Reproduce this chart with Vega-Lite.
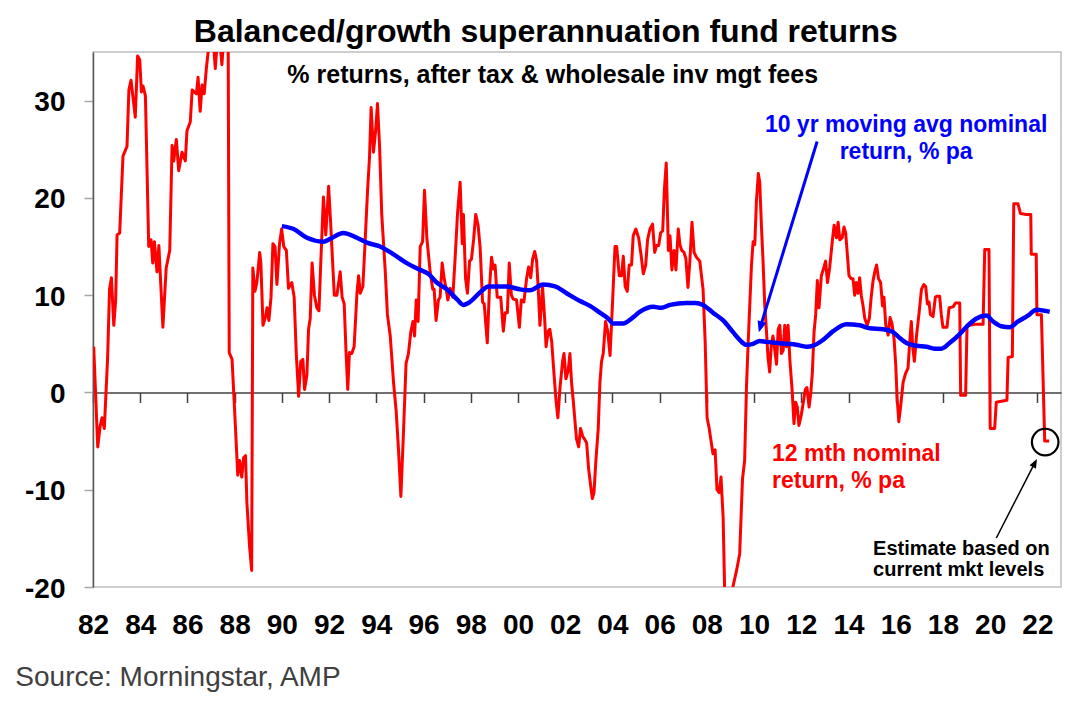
{
  "$schema": "https://vega.github.io/schema/vega-lite/v6.json",
  "width": 968,
  "height": 535,
  "autosize": "none",
  "padding": {"left": 93, "top": 52, "right": 29, "bottom": 121},
  "background": "white",
  "config": {"font": "Liberation Sans", "view": {"stroke": "#bfbfbf", "strokeWidth": 1.5}},
  "resolve": {"axis": {"x": "independent", "y": "independent"}},
  "layer": [
    {
      "data": {"values": [
        {"t":1982.03,"v":4.7},{"t":1982.2,"v":-5.6},{"t":1982.3,"v":-3.5},{"t":1982.38,"v":-2.6},{"t":1982.48,"v":-3.7},{"t":1982.62,"v":3.6},{"t":1982.7,"v":10.6},{"t":1982.78,"v":11.8},{"t":1982.88,"v":6.9},{"t":1982.96,"v":9.5},
        {"t":1983.02,"v":16.2},{"t":1983.13,"v":16.4},{"t":1983.27,"v":24.3},{"t":1983.44,"v":25.3},{"t":1983.52,"v":31.1},{"t":1983.61,"v":32.1},{"t":1983.79,"v":28.3},{"t":1983.89,"v":34.6},{"t":1983.98,"v":34.2},
        {"t":1984.05,"v":30.9},{"t":1984.12,"v":31.5},{"t":1984.22,"v":30.5},{"t":1984.36,"v":15.0},{"t":1984.46,"v":15.7},{"t":1984.53,"v":13.3},{"t":1984.6,"v":15.5},{"t":1984.71,"v":12.4},{"t":1984.79,"v":15.1},{"t":1984.96,"v":6.7},
        {"t":1985.1,"v":12.8},{"t":1985.25,"v":14.6},{"t":1985.35,"v":25.4},{"t":1985.42,"v":23.8},{"t":1985.53,"v":26.0},{"t":1985.63,"v":22.8},{"t":1985.77,"v":24.7},{"t":1985.91,"v":23.8},{"t":1985.98,"v":26.9},
        {"t":1986.12,"v":27.8},{"t":1986.2,"v":31.1},{"t":1986.38,"v":30.7},{"t":1986.45,"v":32.4},{"t":1986.54,"v":28.9},{"t":1986.62,"v":31.6},{"t":1986.71,"v":30.7},{"t":1986.8,"v":33.3},{"t":1986.9,"v":35.5},
        {"t":1987.0,"v":37},{"t":1987.1,"v":36},{"t":1987.18,"v":33.3},{"t":1987.26,"v":36},{"t":1987.38,"v":36},{"t":1987.46,"v":33.7},{"t":1987.55,"v":37},{"t":1987.72,"v":40},{"t":1987.77,"v":4.1},{"t":1987.89,"v":3.4},
        {"t":1988.03,"v":-3.4},{"t":1988.13,"v":-8.5},{"t":1988.21,"v":-7.0},{"t":1988.3,"v":-8.7},{"t":1988.38,"v":-6.7},{"t":1988.46,"v":-6.5},{"t":1988.52,"v":-11.4},{"t":1988.63,"v":-15.8},{"t":1988.72,"v":-18.3},{"t":1988.77,"v":12.8},{"t":1988.86,"v":10.4},{"t":1988.94,"v":11.3},
        {"t":1989.06,"v":14.4},{"t":1989.11,"v":13.3},{"t":1989.2,"v":6.9},{"t":1989.31,"v":7.8},{"t":1989.37,"v":8.7},{"t":1989.45,"v":7.4},{"t":1989.54,"v":9.8},{"t":1989.62,"v":15.3},{"t":1989.71,"v":15.0},{"t":1989.79,"v":11.1},{"t":1989.9,"v":15.3},{"t":1989.99,"v":16.8},
        {"t":1990.08,"v":15.0},{"t":1990.19,"v":14.6},{"t":1990.28,"v":10.7},{"t":1990.42,"v":11.3},{"t":1990.52,"v":9.8},{"t":1990.61,"v":4.0},{"t":1990.71,"v":-0.4},{"t":1990.8,"v":3.2},{"t":1990.89,"v":3.4},{"t":1990.96,"v":0.3},
        {"t":1991.06,"v":1.8},{"t":1991.13,"v":6.5},{"t":1991.2,"v":7.6},{"t":1991.28,"v":13.3},{"t":1991.38,"v":10.0},{"t":1991.48,"v":8.7},{"t":1991.57,"v":8.4},{"t":1991.65,"v":13.5},{"t":1991.76,"v":20.1},{"t":1991.86,"v":16.2},{"t":1991.98,"v":21.2},
        {"t":1992.07,"v":17.2},{"t":1992.22,"v":10.0},{"t":1992.33,"v":10.0},{"t":1992.47,"v":12.4},{"t":1992.55,"v":9.8},{"t":1992.64,"v":9.1},{"t":1992.72,"v":4.0},{"t":1992.79,"v":0.3},{"t":1992.86,"v":4.1},{"t":1992.96,"v":4.0},
        {"t":1993.06,"v":4.7},{"t":1993.18,"v":10.2},{"t":1993.25,"v":12.0},{"t":1993.32,"v":10.2},{"t":1993.43,"v":10.9},{"t":1993.53,"v":15.7},{"t":1993.63,"v":20.8},{"t":1993.71,"v":24.1},{"t":1993.78,"v":29.3},{"t":1993.88,"v":24.7},{"t":1993.97,"v":26.9},
        {"t":1994.05,"v":29.7},{"t":1994.14,"v":25.2},{"t":1994.23,"v":18.3},{"t":1994.38,"v":12.4},{"t":1994.47,"v":8.0},{"t":1994.59,"v":5.8},{"t":1994.73,"v":1.0},{"t":1994.84,"v":-1.9},{"t":1994.94,"v":-5.9},
        {"t":1995.04,"v":-10.7},{"t":1995.15,"v":-4.1},{"t":1995.26,"v":3.0},{"t":1995.36,"v":4.0},{"t":1995.46,"v":6.2},{"t":1995.55,"v":7.3},{"t":1995.62,"v":5.8},{"t":1995.69,"v":9.5},{"t":1995.77,"v":7.3},{"t":1995.86,"v":15.0},{"t":1995.96,"v":15.5},
        {"t":1996.04,"v":20.8},{"t":1996.14,"v":15.9},{"t":1996.28,"v":12.4},{"t":1996.39,"v":10.6},{"t":1996.45,"v":10.6},{"t":1996.53,"v":7.4},{"t":1996.63,"v":9.5},{"t":1996.7,"v":9.8},{"t":1996.79,"v":13.3},{"t":1996.87,"v":11.8},{"t":1996.96,"v":10.6},
        {"t":1997.03,"v":9.5},{"t":1997.13,"v":10.7},{"t":1997.24,"v":9.8},{"t":1997.34,"v":13.9},{"t":1997.44,"v":18.4},{"t":1997.55,"v":21.6},{"t":1997.64,"v":15.3},{"t":1997.69,"v":18.3},{"t":1997.78,"v":11.7},{"t":1997.86,"v":10.2},{"t":1997.95,"v":13.5},
        {"t":1998.03,"v":13.7},{"t":1998.12,"v":15.7},{"t":1998.21,"v":18.3},{"t":1998.31,"v":17.2},{"t":1998.4,"v":14.8},{"t":1998.5,"v":9.3},{"t":1998.57,"v":9.1},{"t":1998.7,"v":5.1},{"t":1998.79,"v":10.6},{"t":1998.88,"v":13.9},{"t":1998.96,"v":12.7},
        {"t":1999.03,"v":13.1},{"t":1999.12,"v":9.8},{"t":1999.27,"v":9.8},{"t":1999.38,"v":6.3},{"t":1999.46,"v":8.2},{"t":1999.55,"v":8.2},{"t":1999.63,"v":13.3},{"t":1999.72,"v":10.0},{"t":1999.8,"v":9.6},{"t":1999.94,"v":9.5},
        {"t":2000.06,"v":6.7},{"t":2000.14,"v":9.5},{"t":2000.25,"v":9.3},{"t":2000.37,"v":11.8},{"t":2000.45,"v":12.9},{"t":2000.54,"v":11.8},{"t":2000.62,"v":13.7},{"t":2000.71,"v":14.5},{"t":2000.79,"v":13.5},{"t":2000.86,"v":10.6},{"t":2000.93,"v":6.9},
        {"t":2001.04,"v":10.9},{"t":2001.13,"v":7.6},{"t":2001.19,"v":4.7},{"t":2001.28,"v":6.3},{"t":2001.35,"v":6.5},{"t":2001.43,"v":5.2},{"t":2001.52,"v":2.1},{"t":2001.61,"v":-0.8},{"t":2001.69,"v":-2.6},{"t":2001.78,"v":0.5},{"t":2001.89,"v":3.2},{"t":2001.95,"v":4.0},
        {"t":2002.03,"v":1.4},{"t":2002.13,"v":2.3},{"t":2002.2,"v":4.0},{"t":2002.27,"v":1.0},{"t":2002.34,"v":-0.8},{"t":2002.43,"v":-3.4},{"t":2002.48,"v":-4.8},{"t":2002.57,"v":-5.6},{"t":2002.65,"v":-3.7},{"t":2002.74,"v":-4.5},{"t":2002.82,"v":-4.8},{"t":2002.91,"v":-5.2},{"t":2002.99,"v":-7.8},
        {"t":2003.09,"v":-9.8},{"t":2003.15,"v":-10.9},{"t":2003.22,"v":-10.3},{"t":2003.3,"v":-7.0},{"t":2003.4,"v":-3.7},{"t":2003.47,"v":1.0},{"t":2003.54,"v":3.2},{"t":2003.61,"v":4.0},{"t":2003.71,"v":7.3},{"t":2003.8,"v":6.3},{"t":2003.9,"v":3.8},
        {"t":2004.01,"v":9.5},{"t":2004.11,"v":15.0},{"t":2004.18,"v":15.0},{"t":2004.29,"v":12.0},{"t":2004.39,"v":12.0},{"t":2004.46,"v":14.0},{"t":2004.54,"v":10.9},{"t":2004.63,"v":10.4},{"t":2004.71,"v":13.1},{"t":2004.81,"v":13.1},{"t":2004.88,"v":16.1},{"t":2004.99,"v":16.8},
        {"t":2005.11,"v":15.9},{"t":2005.21,"v":14.2},{"t":2005.31,"v":12.2},{"t":2005.41,"v":13.1},{"t":2005.49,"v":15.7},{"t":2005.59,"v":16.8},{"t":2005.7,"v":17.3},{"t":2005.79,"v":14.4},{"t":2005.87,"v":15.1},{"t":2005.96,"v":15.1},
        {"t":2006.04,"v":16.4},{"t":2006.13,"v":16.6},{"t":2006.2,"v":20.8},{"t":2006.28,"v":23.6},{"t":2006.37,"v":14.6},{"t":2006.44,"v":16.1},{"t":2006.52,"v":12.6},{"t":2006.61,"v":14.6},{"t":2006.69,"v":12.6},{"t":2006.79,"v":16.8},{"t":2006.86,"v":15.2},{"t":2006.94,"v":14.6},
        {"t":2007.03,"v":14.4},{"t":2007.11,"v":13.8},{"t":2007.2,"v":10.8},{"t":2007.28,"v":13.5},{"t":2007.37,"v":17.5},{"t":2007.46,"v":14.4},{"t":2007.56,"v":13.9},{"t":2007.7,"v":13.5},{"t":2007.84,"v":10.6},{"t":2007.93,"v":5.1},
        {"t":2008.01,"v":-2.6},{"t":2008.1,"v":-3.7},{"t":2008.19,"v":-5.2},{"t":2008.26,"v":-6.3},{"t":2008.35,"v":-5.9},{"t":2008.43,"v":-10.0},{"t":2008.52,"v":-10.3},{"t":2008.6,"v":-8.7},{"t":2008.69,"v":-12.9},{"t":2008.76,"v":-21},{"t":2008.9,"v":-22},
        {"t":2009.05,"v":-21},{"t":2009.11,"v":-19.9},{"t":2009.25,"v":-18.4},{"t":2009.39,"v":-16.6},{"t":2009.51,"v":-8.9},{"t":2009.6,"v":-7.0},{"t":2009.68,"v":0.7},{"t":2009.75,"v":5.1},{"t":2009.82,"v":9.1},{"t":2009.89,"v":13.1},{"t":2009.96,"v":15.5},
        {"t":2010.03,"v":15.2},{"t":2010.1,"v":19.7},{"t":2010.18,"v":22.5},{"t":2010.24,"v":21.6},{"t":2010.31,"v":17.2},{"t":2010.38,"v":13.5},{"t":2010.45,"v":9.1},{"t":2010.52,"v":6.5},{"t":2010.59,"v":3.6},{"t":2010.66,"v":2.1},{"t":2010.73,"v":4.9},{"t":2010.8,"v":5.8},{"t":2010.88,"v":4.3},{"t":2010.95,"v":2.9},
        {"t":2011.02,"v":6.5},{"t":2011.09,"v":6.9},{"t":2011.16,"v":4.0},{"t":2011.23,"v":4.3},{"t":2011.3,"v":6.9},{"t":2011.37,"v":4.7},{"t":2011.44,"v":6.9},{"t":2011.52,"v":3.2},{"t":2011.61,"v":0.3},{"t":2011.69,"v":-3.2},{"t":2011.76,"v":-1.0},{"t":2011.83,"v":-1.5},{"t":2011.9,"v":-3.4},
        {"t":2012.0,"v":-2.3},{"t":2012.1,"v":-0.8},{"t":2012.17,"v":0.3},{"t":2012.24,"v":0.5},{"t":2012.33,"v":-1.5},{"t":2012.4,"v":-0.1},{"t":2012.47,"v":2.1},{"t":2012.54,"v":6.2},{"t":2012.61,"v":8.0},{"t":2012.68,"v":11.5},{"t":2012.75,"v":8.7},{"t":2012.85,"v":12.0},{"t":2012.95,"v":12.8},
        {"t":2013.03,"v":13.5},{"t":2013.11,"v":11.3},{"t":2013.2,"v":12.8},{"t":2013.32,"v":15.7},{"t":2013.39,"v":17.2},{"t":2013.49,"v":15.9},{"t":2013.56,"v":17.5},{"t":2013.63,"v":15.7},{"t":2013.73,"v":15.9},{"t":2013.81,"v":17.0},{"t":2013.88,"v":16.4},{"t":2013.95,"v":14.2},
        {"t":2014.02,"v":12.0},{"t":2014.11,"v":11.7},{"t":2014.19,"v":11.7},{"t":2014.26,"v":10.0},{"t":2014.33,"v":11.3},{"t":2014.4,"v":10.2},{"t":2014.47,"v":11.8},{"t":2014.54,"v":10.0},{"t":2014.61,"v":9.0},{"t":2014.69,"v":7.6},{"t":2014.79,"v":6.9},{"t":2014.88,"v":7.6},{"t":2014.96,"v":9.8},
        {"t":2015.04,"v":11.5},{"t":2015.12,"v":12.5},{"t":2015.19,"v":13.1},{"t":2015.27,"v":11.7},{"t":2015.36,"v":11.3},{"t":2015.44,"v":8.9},{"t":2015.5,"v":9.8},{"t":2015.58,"v":6.9},{"t":2015.68,"v":5.9},{"t":2015.76,"v":7.7},{"t":2015.84,"v":7.1},{"t":2015.93,"v":5.5},
        {"t":2016.0,"v":2.8},{"t":2016.06,"v":-0.6},{"t":2016.13,"v":-3.0},{"t":2016.21,"v":-1.4},{"t":2016.31,"v":1.0},{"t":2016.41,"v":1.9},{"t":2016.52,"v":2.5},{"t":2016.59,"v":5.1},{"t":2016.66,"v":7.3},{"t":2016.72,"v":4.7},{"t":2016.79,"v":3.2},{"t":2016.88,"v":5.8},{"t":2016.99,"v":8.2},
        {"t":2017.09,"v":10.6},{"t":2017.19,"v":11.1},{"t":2017.27,"v":10.9},{"t":2017.34,"v":9.1},{"t":2017.41,"v":9.3},{"t":2017.47,"v":8.0},{"t":2017.58,"v":7.8},{"t":2017.68,"v":9.8},{"t":2017.75,"v":9.9},{"t":2017.86,"v":9.9},{"t":2017.93,"v":8.0},
        {"t":2018.0,"v":6.7},{"t":2018.17,"v":6.7},{"t":2018.26,"v":8.7},{"t":2018.43,"v":8.8},{"t":2018.53,"v":9.2},{"t":2018.71,"v":9.2},{"t":2018.75,"v":-0.3},{"t":2018.96,"v":-0.3},
        {"t":2019.02,"v":6.9},{"t":2019.13,"v":6.9},{"t":2019.35,"v":7.0},{"t":2019.7,"v":7.0},{"t":2019.77,"v":14.7},{"t":2019.95,"v":14.7},
        {"t":2020.0,"v":-3.7},{"t":2020.19,"v":-3.7},{"t":2020.26,"v":-1.0},{"t":2020.47,"v":-0.9},{"t":2020.71,"v":-0.8},{"t":2020.76,"v":3.6},{"t":2020.94,"v":3.7},
        {"t":2021.0,"v":19.4},{"t":2021.18,"v":19.4},{"t":2021.28,"v":18.4},{"t":2021.53,"v":18.3},{"t":2021.72,"v":18.3},{"t":2021.74,"v":14.2},{"t":2021.95,"v":14.2},{"t":2021.98,"v":8.0},
        {"t":2022.17,"v":8.0},{"t":2022.31,"v":-5.0},{"t":2022.5,"v":-5.0}
      ]},
      "mark": {"type": "line", "color": "#ff0000", "strokeWidth": 3, "clip": true, "strokeJoin": "round"},
      "encoding": {
        "x": {"field": "t", "type": "quantitative", "scale": {"domain": [1982, 2023], "nice": false, "zero": false},
          "axis": {"orient": "bottom", "values": [1982,1984,1986,1988,1990,1992,1994,1996,1998,2000,2002,2004,2006,2008,2010,2012,2014,2016,2018,2020,2022], "labelExpr": "slice(toString(datum.value), 2)", "ticks": false, "tickSize": 0, "domain": false, "grid": false, "labelFontSize": 28, "labelFontWeight": "bold", "labelColor": "#000000", "labelPadding": 24, "labelFlush": false, "labelOverlap": false, "title": null}},
        "y": {"field": "v", "type": "quantitative", "scale": {"domain": [-20, 35], "nice": false, "zero": false},
          "axis": {"orient": "left", "values": [-20,-10,0,10,20,30], "labelExpr": "toString(datum.value)", "labelFontSize": 28, "labelFontWeight": "bold", "labelColor": "#000000", "tickSize": 9, "tickColor": "#a6a6a6", "tickWidth": 1.5, "domainColor": "#595959", "domainWidth": 1.5, "labelPadding": 19, "labelOffset": 2, "grid": false, "title": null, "labelFlush": false, "labelOverlap": false}}
      }
    },
    {
      "data": {"values": [
        {"t":1990.0,"v":17.1},{"t":1990.5,"v":16.8},{"t":1991.06,"v":15.9},{"t":1991.76,"v":15.5},{"t":1992.05,"v":15.8},{"t":1992.6,"v":16.4},{"t":1993.18,"v":15.9},{"t":1993.6,"v":15.4},{"t":1994.16,"v":15.0},{"t":1994.73,"v":14.2},
        {"t":1995.29,"v":13.3},{"t":1995.86,"v":12.6},{"t":1996.2,"v":12.2},{"t":1996.56,"v":11.3},{"t":1996.99,"v":10.6},{"t":1997.41,"v":9.6},{"t":1997.69,"v":9.0},{"t":1997.9,"v":9.2},{"t":1998.4,"v":10.3},{"t":1998.75,"v":10.9},
        {"t":1999.5,"v":10.9},{"t":2000.08,"v":10.6},{"t":2000.5,"v":10.5},{"t":2001.07,"v":11.1},{"t":2001.57,"v":10.9},{"t":2002.06,"v":10.2},{"t":2002.63,"v":9.4},{"t":2003.05,"v":8.9},{"t":2003.47,"v":8.2},{"t":2003.82,"v":7.6},
        {"t":2004.04,"v":7.1},{"t":2004.46,"v":7.1},{"t":2004.81,"v":7.6},{"t":2005.17,"v":8.3},{"t":2005.73,"v":8.8},{"t":2006.08,"v":8.7},{"t":2006.44,"v":9.0},{"t":2007.14,"v":9.2},{"t":2007.5,"v":9.2},{"t":2007.84,"v":9.0},
        {"t":2008.26,"v":8.2},{"t":2008.69,"v":7.4},{"t":2009.11,"v":6.2},{"t":2009.39,"v":5.4},{"t":2009.68,"v":4.9},{"t":2009.96,"v":5.0},{"t":2010.24,"v":5.3},{"t":2010.52,"v":5.2},{"t":2010.95,"v":5.1},{"t":2011.37,"v":5.0},
        {"t":2011.79,"v":4.9},{"t":2012.22,"v":4.7},{"t":2012.5,"v":4.8},{"t":2012.92,"v":5.4},{"t":2013.35,"v":6.3},{"t":2013.91,"v":7.0},{"t":2014.47,"v":6.9},{"t":2014.9,"v":6.6},{"t":2015.46,"v":6.5},{"t":2015.89,"v":6.2},
        {"t":2016.17,"v":5.6},{"t":2016.52,"v":5.0},{"t":2016.88,"v":4.8},{"t":2017.3,"v":4.7},{"t":2017.65,"v":4.5},{"t":2017.93,"v":4.5},{"t":2018.29,"v":5.1},{"t":2018.71,"v":6.0},{"t":2019.06,"v":6.9},{"t":2019.42,"v":7.6},
        {"t":2019.84,"v":7.9},{"t":2020.12,"v":7.3},{"t":2020.47,"v":6.8},{"t":2020.83,"v":6.7},{"t":2021.18,"v":7.3},{"t":2021.6,"v":7.9},{"t":2021.96,"v":8.5},{"t":2022.31,"v":8.4},{"t":2022.52,"v":8.3}
      ]},
      "mark": {"type": "line", "color": "#0000ff", "strokeWidth": 4.5, "interpolate": "monotone", "clip": true},
      "encoding": {
        "x": {"field": "t", "type": "quantitative", "scale": {"domain": [1982, 2023], "nice": false, "zero": false},
          "axis": {"orient": "bottom", "offset": -194.5, "values": [1982,1984,1986,1988,1990,1992,1994,1996,1998,2000,2002,2004,2006,2008,2010,2012,2014,2016,2018,2020,2022], "labels": false, "ticks": true, "tickSize": 10, "tickColor": "#404040", "tickWidth": 1.5, "domain": true, "domainColor": "#404040", "domainWidth": 1.5, "grid": false, "title": null}},
        "y": {"field": "v", "type": "quantitative", "scale": {"domain": [-20, 35], "nice": false, "zero": false}, "axis": null}
      }
    },
    {
      "data": {"values": [{"t":2001.18,"v":36.0,"text":"Balanced/growth superannuation fund returns"}]},
      "mark": {"type": "text", "fontSize": 32, "fontWeight": "bold", "align": "center", "baseline": "alphabetic", "color": "#000000"},
      "encoding": {
        "x": {"field": "t", "type": "quantitative", "scale": {"domain": [1982, 2023], "nice": false, "zero": false}, "axis": null},
        "y": {"field": "v", "type": "quantitative", "scale": {"domain": [-20, 35], "nice": false, "zero": false}, "axis": null},
        "text": {"field": "text"}
      }
    },
    {
      "data": {"values": [{"t":2001.47,"v":31.85,"text":"% returns, after tax & wholesale inv mgt fees"}]},
      "mark": {"type": "text", "fontSize": 25, "fontWeight": "bold", "align": "center", "baseline": "alphabetic", "color": "#000000"},
      "encoding": {
        "x": {"field": "t", "type": "quantitative", "scale": {"domain": [1982, 2023], "nice": false, "zero": false}, "axis": null},
        "y": {"field": "v", "type": "quantitative", "scale": {"domain": [-20, 35], "nice": false, "zero": false}, "axis": null},
        "text": {"field": "text"}
      }
    },
    {
      "data": {"values": [{"t":2016.44,"v":26.78,"text":"10 yr moving avg nominal"},{"t":2016.44,"v":24.04,"text":"return, % pa"}]},
      "mark": {"type": "text", "fontSize": 23, "fontWeight": "bold", "align": "center", "baseline": "alphabetic", "color": "#0000ff"},
      "encoding": {
        "x": {"field": "t", "type": "quantitative", "scale": {"domain": [1982, 2023], "nice": false, "zero": false}, "axis": null},
        "y": {"field": "v", "type": "quantitative", "scale": {"domain": [-20, 35], "nice": false, "zero": false}, "axis": null},
        "text": {"field": "text"}
      }
    },
    {
      "data": {"values": [{"t":2010.76,"v":-7.08,"text":"12 mth nominal"},{"t":2010.76,"v":-9.82,"text":"return, % pa"}]},
      "mark": {"type": "text", "fontSize": 23, "fontWeight": "bold", "align": "left", "baseline": "alphabetic", "color": "#ff0000"},
      "encoding": {
        "x": {"field": "t", "type": "quantitative", "scale": {"domain": [1982, 2023], "nice": false, "zero": false}, "axis": null},
        "y": {"field": "v", "type": "quantitative", "scale": {"domain": [-20, 35], "nice": false, "zero": false}, "axis": null},
        "text": {"field": "text"}
      }
    },
    {
      "data": {"values": [{"t":2015.04,"v":-16.68,"text":"Estimate based on"},{"t":2015.04,"v":-18.91,"text":"current mkt levels"}]},
      "mark": {"type": "text", "fontSize": 20, "fontWeight": "bold", "align": "left", "baseline": "alphabetic", "color": "#000000"},
      "encoding": {
        "x": {"field": "t", "type": "quantitative", "scale": {"domain": [1982, 2023], "nice": false, "zero": false}, "axis": null},
        "y": {"field": "v", "type": "quantitative", "scale": {"domain": [-20, 35], "nice": false, "zero": false}, "axis": null},
        "text": {"field": "text"}
      }
    },
    {
      "data": {"values": [{"t":1978.71,"v":-30.21,"text":"Source: Morningstar, AMP"}]},
      "mark": {"type": "text", "fontSize": 28, "fontWeight": "normal", "align": "left", "baseline": "alphabetic", "color": "#404040"},
      "encoding": {
        "x": {"field": "t", "type": "quantitative", "scale": {"domain": [1982, 2023], "nice": false, "zero": false}, "axis": null},
        "y": {"field": "v", "type": "quantitative", "scale": {"domain": [-20, 35], "nice": false, "zero": false}, "axis": null},
        "text": {"field": "text"}
      }
    },
    {
      "data": {"values": [{"t":2012.67,"v":25.8,"t2":2010.26,"v2":6.69}]},
      "mark": {"type": "rule", "color": "#0000ff", "strokeWidth": 3},
      "encoding": {
        "x": {"field": "t", "type": "quantitative", "scale": {"domain": [1982, 2023], "nice": false, "zero": false}, "axis": null},
        "y": {"field": "v", "type": "quantitative", "scale": {"domain": [-20, 35], "nice": false, "zero": false}, "axis": null},
        "x2": {"field": "t2"},
        "y2": {"field": "v2"}
      }
    },
    {
      "data": {"values": [{"t":2020.26,"v":-14.96,"t2":2021.9,"v2":-7.19}]},
      "mark": {"type": "rule", "color": "#000000", "strokeWidth": 1.5},
      "encoding": {
        "x": {"field": "t", "type": "quantitative", "scale": {"domain": [1982, 2023], "nice": false, "zero": false}, "axis": null},
        "y": {"field": "v", "type": "quantitative", "scale": {"domain": [-20, 35], "nice": false, "zero": false}, "axis": null},
        "x2": {"field": "t2"},
        "y2": {"field": "v2"}
      }
    },
    {
      "data": {"values": [{"t":2010.2,"v":6.2}]},
      "mark": {"type": "point", "shape": "M0,0 L-0.42,1 L0.42,1 Z", "filled": true, "size": 484, "angle": 197, "color": "#0000ff", "opacity": 1},
      "encoding": {
        "x": {"field": "t", "type": "quantitative", "scale": {"domain": [1982, 2023], "nice": false, "zero": false}, "axis": null},
        "y": {"field": "v", "type": "quantitative", "scale": {"domain": [-20, 35], "nice": false, "zero": false}, "axis": null}
      }
    },
    {
      "data": {"values": [{"t":2021.98,"v":-6.84}]},
      "mark": {"type": "point", "shape": "M0,0 L-0.4,1 L0.4,1 Z", "filled": true, "size": 324, "angle": 27.3, "color": "#000000", "opacity": 1},
      "encoding": {
        "x": {"field": "t", "type": "quantitative", "scale": {"domain": [1982, 2023], "nice": false, "zero": false}, "axis": null},
        "y": {"field": "v", "type": "quantitative", "scale": {"domain": [-20, 35], "nice": false, "zero": false}, "axis": null}
      }
    },
    {
      "data": {"values": [{"t":2022.33,"v":-5.1}]},
      "mark": {"type": "point", "shape": "circle", "filled": false, "size": 707, "stroke": "#000000", "strokeWidth": 2.2, "opacity": 1},
      "encoding": {
        "x": {"field": "t", "type": "quantitative", "scale": {"domain": [1982, 2023], "nice": false, "zero": false}, "axis": null},
        "y": {"field": "v", "type": "quantitative", "scale": {"domain": [-20, 35], "nice": false, "zero": false}, "axis": null}
      }
    }
  ]
}
